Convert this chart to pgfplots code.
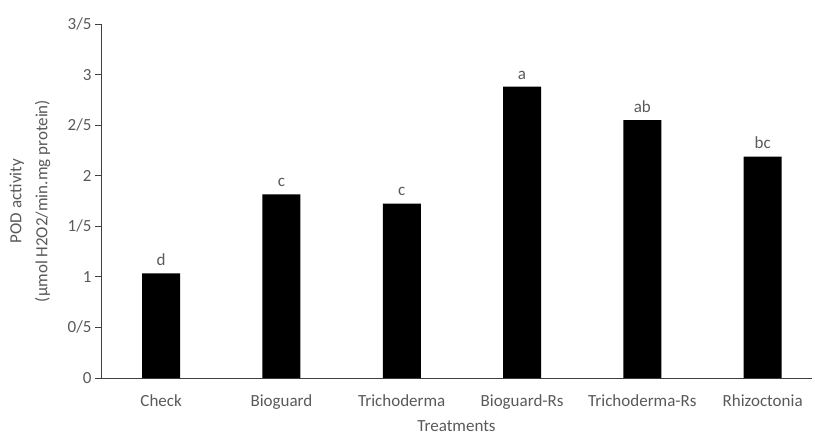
\documentclass[border=0pt]{standalone}
\usepackage{fontspec}
\setmainfont{Carlito}
\usepackage{pgfplots}
\pgfplotsset{compat=1.18}
\definecolor{txtgray}{HTML}{595959}
\definecolor{axgray}{HTML}{404040}
\begin{document}
\begin{tikzpicture}
\begin{axis}[
    scale only axis,
    width=711pt, height=354pt,
    ymin=0, ymax=3.5,
    xmin=-0.5, xmax=5.41,
    ytick={0,0.5,1,1.5,2,2.5,3,3.5},
    yticklabels={0,0/5,1,1/5,2,2/5,3,3/5},
    xtick={0,1,2,3,4,5},
    xticklabels={Check,Bioguard,Trichoderma,Bioguard-Rs,Trichoderma-Rs,Rhizoctonia},
    extra x ticks={0.5,1.5,2.5,3.5,4.5},
    extra x tick labels={},
    extra x tick style={major tick length=6pt, tick style={axgray, line width=0.8pt}},
    axis x line*=bottom,
    axis y line*=left,
    x axis line style={-, axgray, line width=0.8pt},
    y axis line style={-, axgray, line width=0.8pt},
    xtick style={draw=none},
    ytick style={axgray, line width=0.8pt},
    tick align=outside,
    major tick length=6pt,
    ticklabel style={font=\fontsize{17}{20}\selectfont, text=txtgray},
    xticklabel style={yshift=-7pt},
    /pgf/number format/assume math mode=true,
    ylabel={POD activity\\(µmol H2O2/min.mg protein)},
    ylabel style={align=center, font=\fontsize{17}{26}\selectfont, text=txtgray,
        at={(axis description cs:-0.1,0.5)}, anchor=center},
    xlabel={Treatments},
    xlabel style={font=\fontsize{17}{20}\selectfont, text=txtgray,
        at={(axis description cs:0.5,-0.1505)}, anchor=base},
    ybar,
    bar width=38pt,
    nodes near coords,
    point meta=explicit symbolic,
    every node near coord/.append style={font=\fontsize{17}{20}\selectfont, text=txtgray, yshift=4pt},
]
\addplot[fill=black, draw=none] table[meta=lab] {
x y lab
0 1.035 d
1 1.815 c
2 1.725 c
3 2.88 a
4 2.55 ab
5 2.19 bc
};
\end{axis}
\pgfresetboundingbox
\useasboundingbox (-101pt,-59pt) rectangle (714pt,378pt);
\end{tikzpicture}
\end{document}
